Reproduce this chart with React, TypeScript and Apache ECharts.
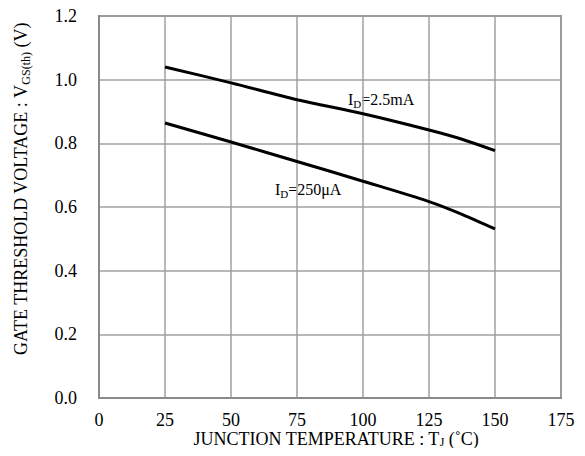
import React, { useEffect, useRef } from "react";
import * as echarts from "echarts";

const temps = [25, 50, 75, 100, 125, 137.5, 150];
const vth25mA = [1.04, 0.99, 0.937, 0.893, 0.842, 0.813, 0.777];
const vth250uA = [0.864, 0.804, 0.743, 0.681, 0.617, 0.577, 0.531];
const xTicks = { min: 0, max: 175, interval: 25 };
const yTicks = { min: 0, max: 1.2, interval: 0.2 };

const FONT = "Liberation Serif";

export default function App() {
  const ref = useRef<HTMLDivElement>(null);
  useEffect(() => {
    const chart = echarts.init(ref.current!, null, { renderer: "svg" });
    const toPairs = (ys: number[]) => temps.map((t, i) => [t, ys[i]]);
    const rich = (fs: number) => ({
      n: { fontFamily: FONT, fontSize: fs, fill: "#000", color: "#000" },
      s: {
        fontFamily: FONT,
        fontSize: Math.round(fs * 0.68),
        fill: "#000",
        color: "#000",
        verticalAlign: "bottom",
        padding: [Math.round(fs * 0.55), 0, 0, 0],
      },
    });
    chart.setOption({
      animation: false,
      textStyle: { fontFamily: FONT, color: "#000" },
      grid: {
        left: 99,
        top: 16,
        width: 462,
        height: 382,
        containLabel: false,
        outerBoundsMode: "none",
        show: true,
        borderColor: "#8a8a8a",
        borderWidth: 2,
      },
      xAxis: {
        type: "value",
        min: xTicks.min,
        max: xTicks.max,
        interval: xTicks.interval,
        axisLine: { show: true, lineStyle: { color: "#8a8a8a", width: 2 } },
        axisTick: { show: false },
        splitLine: { show: true, lineStyle: { color: "#a0a0a0", width: 1.5 } },
        axisLabel: { fontFamily: FONT, fontSize: 18, lineHeight: 16, color: "#000", margin: 14 },
      },
      yAxis: {
        type: "value",
        min: yTicks.min,
        max: yTicks.max,
        interval: yTicks.interval,
        axisLine: { show: true, lineStyle: { color: "#8a8a8a", width: 2 } },
        axisTick: { show: false },
        splitLine: { show: true, lineStyle: { color: "#a0a0a0", width: 1.5 } },
        axisLabel: {
          fontFamily: FONT,
          fontSize: 18,
          color: "#000",
          margin: 22,
          formatter: (v: number) => v.toFixed(1),
        },
      },
      series: [
        {
          type: "line",
          data: toPairs(vth25mA),
          smooth: 0.3,
          symbol: "none",
          lineStyle: { color: "#000", width: 3 },
        },
        {
          type: "line",
          data: toPairs(vth250uA),
          smooth: 0.3,
          symbol: "none",
          lineStyle: { color: "#000", width: 3 },
        },
      ],
      graphic: [
        {
          type: "text",
          x: 21,
          y: 189,
          rotation: Math.PI / 2,
          style: {
            text: "{n|GATE THRESHOLD VOLTAGE : V}{s|GS(th)}{n| (V)}",
            align: "center",
            verticalAlign: "middle",
            rich: rich(18),
          },
        },
        {
          type: "text",
          x: 336,
          y: 439,
          style: {
            text: "{n|JUNCTION TEMPERATURE : T}{s|J}{n| (˚C)}",
            align: "center",
            verticalAlign: "middle",
            rich: {
              n: { fontFamily: FONT, fontSize: 18, lineHeight: 18, fill: "#000" },
              s: {
                fontFamily: FONT,
                fontSize: 12,
                lineHeight: 12,
                fill: "#000",
                verticalAlign: "bottom",
                padding: [6, 0, 0, 0],
              },
            },
          },
        },
        {
          type: "text",
          left: 348,
          top: 91,
          style: {
            text: "{n|I}{s|D}{n|=2.5mA}",
            rich: rich(16),
          },
        },
        {
          type: "text",
          left: 275,
          top: 181,
          style: {
            text: "{n|I}{s|D}{n|=250μA}",
            rich: rich(16),
          },
        },
      ],
    });
    return () => chart.dispose();
  }, []);
  return <div ref={ref} style={{ width: 585, height: 456, margin: -8 }} />;
}
